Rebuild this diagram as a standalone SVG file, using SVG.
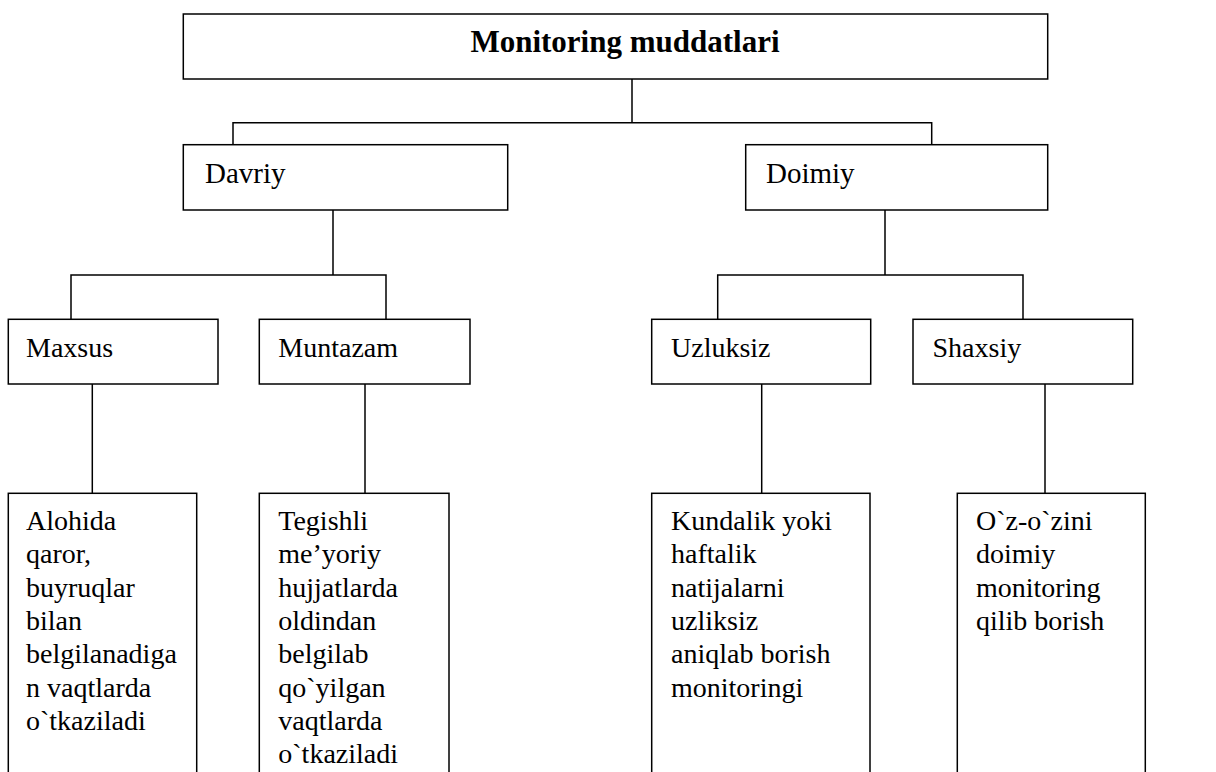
<svg xmlns="http://www.w3.org/2000/svg" width="1216" height="772" viewBox="0 0 1216 772">
<style>
rect{fill:#fff;stroke:#000;stroke-width:1.5}
#connectors path{fill:none;stroke:#000;stroke-width:1.5}
text{font-family:"Liberation Serif","Times New Roman",serif;font-size:28px;fill:#000}
.b{font-weight:bold;font-size:31px}
.l1{font-size:29px}
</style>
<rect x="0" y="0" width="1216" height="772" style="stroke:none"/>
<g id="connectors">
<path d="M632 79V122.7M233 144.7V122.7H931.7V144.7"/>
<path d="M333 210V275M71 319V275H386V319"/>
<path d="M885 210V275M717.7 319V275H1023V319"/>
<path d="M92.3 384V493"/>
<path d="M365 384V493"/>
<path d="M761.7 384V493"/>
<path d="M1045 384V493"/>
</g>
<g id="root"><rect x="183.3" y="14" width="864.4" height="65"/><text class="b" x="625" y="52" text-anchor="middle">Monitoring muddatlari</text></g>
<g id="davriy"><rect x="183.3" y="144.7" width="324.4" height="65.3"/><text class="l1" x="205" y="183">Davriy</text></g>
<g id="doimiy"><rect x="745.7" y="144.7" width="302" height="65.3"/><text class="l1" x="766" y="183">Doimiy</text></g>
<g id="maxsus"><rect x="8.3" y="319.3" width="209.7" height="64.7"/><text x="26" y="356.7">Maxsus</text></g>
<g id="muntazam"><rect x="259.3" y="319.3" width="210.7" height="64.7"/><text x="278.3" y="356.7">Muntazam</text></g>
<g id="uzluksiz"><rect x="651.7" y="319.3" width="219" height="64.7"/><text x="671" y="356.7">Uzluksiz</text></g>
<g id="shaxsiy"><rect x="913" y="319.3" width="219.7" height="64.7"/><text x="932.5" y="356.7">Shaxsiy</text></g>
<g id="maxsus-desc"><rect x="8.3" y="493.3" width="188.4" height="300"/>
<text x="26" y="530">Alohida</text><text x="26" y="563.3">qaror,</text><text x="26" y="596.6">buyruqlar</text><text x="26" y="630">bilan</text><text x="26" y="663.3">belgilanadiga</text><text x="26" y="696.6">n vaqtlarda</text><text x="26" y="730">o`tkaziladi</text></g>
<g id="muntazam-desc"><rect x="259.3" y="493.3" width="189.7" height="300"/>
<text x="278.3" y="530">Tegishli</text><text x="278.3" y="563.3">me’yoriy</text><text x="278.3" y="596.6">hujjatlarda</text><text x="278.3" y="630">oldindan</text><text x="278.3" y="663.3">belgilab</text><text x="278.3" y="696.6">qo`yilgan</text><text x="278.3" y="730">vaqtlarda</text><text x="278.3" y="763.3">o`tkaziladi</text></g>
<g id="uzluksiz-desc"><rect x="651.7" y="493.3" width="218.3" height="300"/>
<text x="671" y="530">Kundalik yoki</text><text x="671" y="563.3">haftalik</text><text x="671" y="596.6">natijalarni</text><text x="671" y="630">uzliksiz</text><text x="671" y="663.3">aniqlab borish</text><text x="671" y="696.6">monitoringi</text></g>
<g id="shaxsiy-desc"><rect x="957.3" y="493.3" width="188" height="300"/>
<text x="976" y="530">O`z-o`zini</text><text x="976" y="563.3">doimiy</text><text x="976" y="596.6">monitoring</text><text x="976" y="630">qilib borish</text></g>
</svg>
